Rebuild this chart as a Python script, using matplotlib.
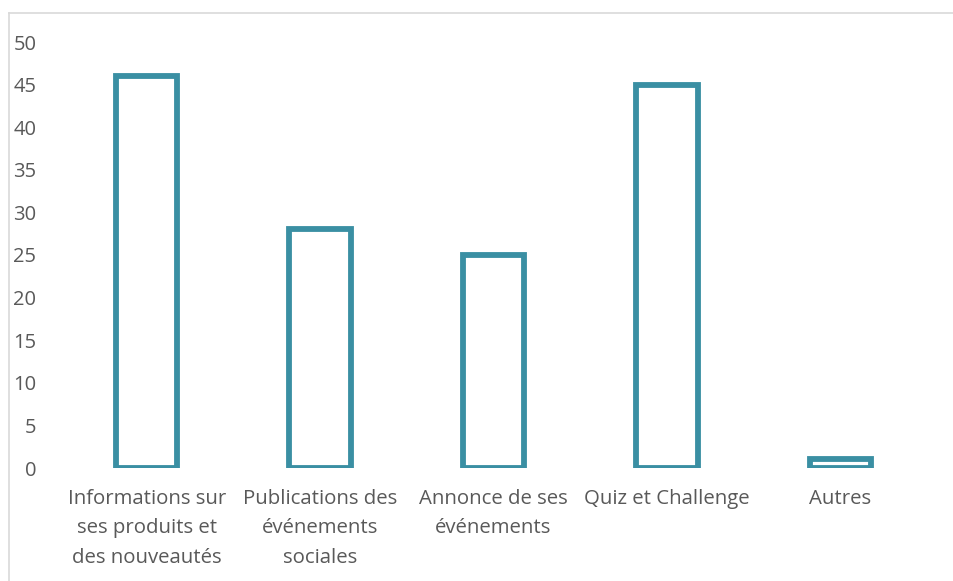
import matplotlib.pyplot as plt
from matplotlib.lines import Line2D

# Data
categories = ["Informations sur\nses produits et\ndes nouveautés",
              "Publications des\névénements\nsociales",
              "Annonce de ses\névénements",
              "Quiz et Challenge",
              "Autres"]
values = [46, 28, 25, 45, 1]
yticks = [0, 5, 10, 15, 20, 25, 30, 35, 40, 45, 50]

bar_color = "#3a8fa3"
text_color = "#595959"

plt.rcParams['font.family'] = ['Open Sans', 'DejaVu Sans']

fig = plt.figure(figsize=(9.54, 5.81), dpi=100)
ax = fig.add_axes([60/954, 113/581, 867/954, 426/581])

x = range(len(categories))
ax.bar(x, values, width=0.355, facecolor="white", edgecolor=bar_color, linewidth=4.2)

ax.set_xlim(-0.5, len(categories) - 0.5)
ax.set_ylim(0, 50)
ax.set_yticks(yticks)
ax.set_xticks(list(x))
ax.set_xticklabels(categories, fontsize=14.7, color=text_color, linespacing=1.63)
ax.tick_params(axis='y', labelsize=14.5, labelcolor=text_color, length=0, pad=17)
ax.tick_params(axis='x', length=0, pad=15)
for s in ax.spines.values():
    s.set_visible(False)

# outer chart frame (left and top edges visible)
fig.add_artist(Line2D([9/954, 9/954], [0, 1 - 13/581], transform=fig.transFigure,
                      color="#d9d9d9", linewidth=1.2))
fig.add_artist(Line2D([9/954, 1], [1 - 13/581, 1 - 13/581], transform=fig.transFigure,
                      color="#d9d9d9", linewidth=1.2))

fig.savefig("out.png", dpi=100)
